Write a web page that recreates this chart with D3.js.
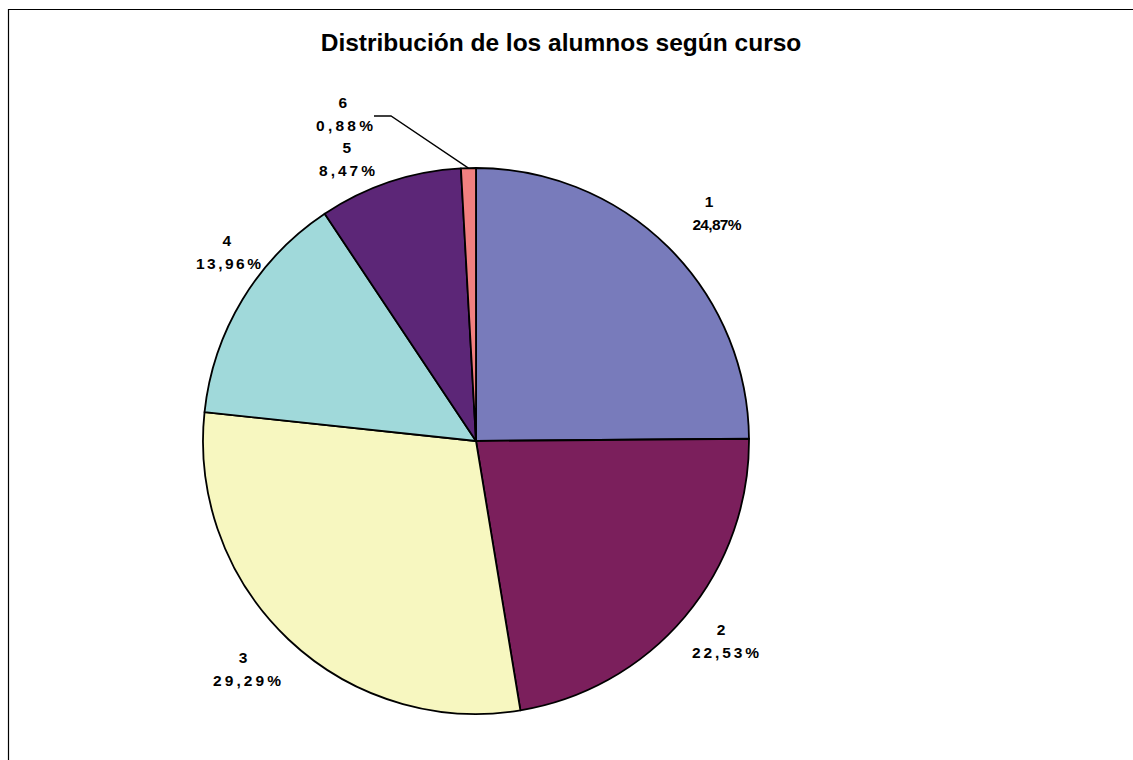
<!DOCTYPE html>
<html><head><meta charset="utf-8">
<script src="https://cdn.jsdelivr.net/npm/d3@7"></script>
<style>body{margin:0;background:#fff}svg{display:block}</style>
</head><body>
<svg id="c" width="1133" height="760"></svg>
<script>
const categories = ["1","2","3","4","5","6"];
const values = [24.87, 22.53, 29.29, 13.96, 8.47, 0.88];
const labels = ["24,87%","22,53%","29,29%","13,96%","8,47%","0,88%"];
const colors = ["#787BBB","#7B1F5C","#F7F7C0","#A0D9DA","#5C2677","#F28080"];
const title = "Distribución de los alumnos según curso";

const svg = d3.select("#c");
svg.append("path").attr("d","M8.5,760 V9.5 H1133").attr("fill","none").attr("stroke","#000").attr("stroke-width",1.2);
svg.append("text").attr("x",561).attr("y",51).attr("text-anchor","middle")
  .attr("font-family","Liberation Sans, Arial, sans-serif").attr("font-weight","bold").attr("font-size",24.5)
  .text(title);

const cx = 476, cy = 441, r = 273;
const pie = d3.pie().sort(null).value(d=>d)(values);
const arc = d3.arc().innerRadius(0).outerRadius(r);
const g = svg.append("g").attr("transform",`translate(${cx},${cy})`);
g.selectAll("path").data(pie).join("path")
  .attr("d",arc).attr("fill",(d,i)=>colors[i]).attr("stroke","#000").attr("stroke-width",1.8).attr("stroke-linejoin","round");

const lbl = svg.append("g").attr("font-family","Liberation Sans, Arial, sans-serif").attr("font-weight","bold").attr("font-size",15.5).attr("text-anchor","middle");
// [number x, percent x, y]
const labelPos = [[709,717,202],[721,725.5,630],[243,247,658],[226.7,228.5,241],[346.7,347,148],[342.7,344.5,103]];
const spacing = [-0.7,2.9,3.1,2.5,3.0,3.25];
pie.forEach((d,i)=>{
  const [nx,px,y] = labelPos[i];
  lbl.append("text").attr("x",nx).attr("y",y+5).text(categories[i]);
  lbl.append("text").attr("x",px+spacing[i]/2).attr("y",y+28).attr("letter-spacing",spacing[i]).text(labels[i]);
});
// leader line for slice 6
const d6 = pie[5];
const mid = (d6.startAngle+d6.endAngle)/2;
const ex = cx + Math.sin(mid)*r, ey = cy - Math.cos(mid)*r;
svg.append("path").attr("d",`M374,116 H391 L${ex},${ey}`).attr("fill","none").attr("stroke","#000").attr("stroke-width",1.3);
</script>
</body></html>
